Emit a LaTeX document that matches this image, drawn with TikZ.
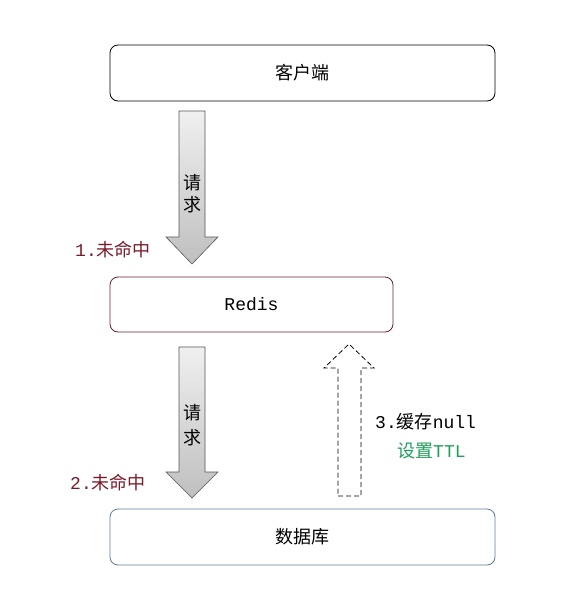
\documentclass[tikz,border=0pt]{standalone}
\usepackage{fontspec}
\newfontfamily\cjk{Noto Sans CJK SC}
\newfontfamily\mono{Liberation Mono}
\definecolor{redisred}{HTML}{6E1E2C}
\definecolor{misscol}{HTML}{7A1A28}
\definecolor{dbblue}{HTML}{5F7B99}
\definecolor{ttlgreen}{HTML}{1F9E5A}
\definecolor{arrowedge}{HTML}{555555}
\tikzset{
  box/.style={draw, rounded corners=8pt, line width=0.8pt, minimum height=56pt, inner sep=0pt},
  lbl/.style={font=\fontsize{18}{22}\selectfont, inner sep=0pt},
  blockarrow/.style={draw=arrowedge, line width=0.6pt, top color=gray!12, bottom color=gray!50, line join=miter},
  dasharrow/.style={draw=black, line width=0.8pt, dashed, dash pattern=on 5pt off 3pt},
}
\begin{document}
\begin{tikzpicture}[x=1pt,y=-1pt]
\useasboundingbox (0,0) rectangle (588,597);
% boxes
\node[box, draw=black, minimum width=385pt] (client) at (302.5,73) {};
\node[lbl] at (client.center) {\cjk 客户端};
\node[box, draw=redisred, minimum width=283pt, minimum height=55pt] (redis) at (251.5,304.5) {};
\node[lbl] at (redis.center) {\mono Redis};
\node[box, draw=dbblue, minimum width=385pt] (db) at (302.5,537) {};
\node[lbl] at (db.center) {\cjk 数据库};
% arrow 1
\draw[blockarrow] (179,111) -- (205,111) -- (205,237) -- (218,237) -- (192,264) -- (166,237) -- (179,237) -- cycle;
\node[lbl, align=center, font=\fontsize{18}{22}\selectfont] (req1) at (192,194) {\cjk 请\\\cjk 求};
\node[lbl, text=misscol, anchor=west] (miss1) at (75,250) {\mono 1.\cjk 未命中};
% arrow 2
\draw[blockarrow] (179,347) -- (205,347) -- (205,472) -- (218,472) -- (192,498) -- (166,472) -- (179,472) -- cycle;
\node[lbl, align=center, font=\fontsize{18}{25}\selectfont] (req2) at (192,425) {\cjk 请\\\cjk 求};
\node[lbl, text=misscol, anchor=west] (miss2) at (70,483) {\mono 2.\cjk 未命中};
% dashed arrow up
\draw[dasharrow] (338,496) -- (361,496) -- (361,368) -- (374,368) -- (349,344) -- (324,368) -- (338,368) -- cycle;
\node[lbl, anchor=west] (cache) at (375,422) {\mono 3.\cjk 缓存\mono null};
\node[lbl, anchor=west, text=ttlgreen] (ttl) at (397,451) {\cjk 设置\mono TTL};
\end{tikzpicture}
\end{document}
